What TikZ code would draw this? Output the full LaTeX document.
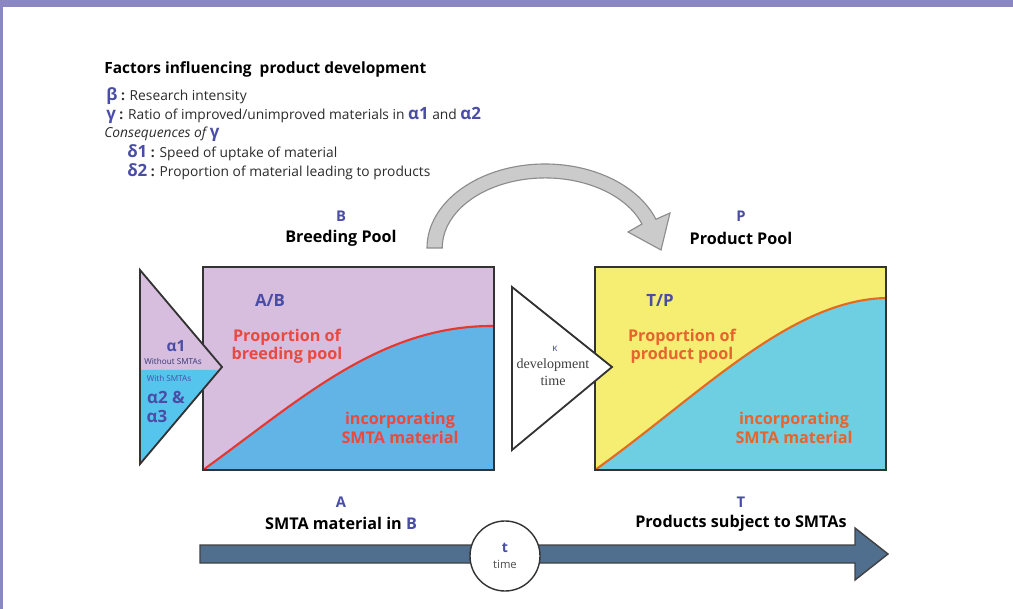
\documentclass[tikz,border=0pt]{standalone}
\usepackage{fontspec}
\setmainfont{Open Sans}
\newfontfamily\devfont{Liberation Serif}
\usepackage{xcolor}
\usetikzlibrary{positioning}

\definecolor{framepurple}{HTML}{8B87C2}
\definecolor{poolpink}{HTML}{D7BDDE}
\definecolor{poolblue}{HTML}{62B3E6}
\definecolor{trisky}{HTML}{55C5EE}
\definecolor{prodyellow}{HTML}{F5EE72}
\definecolor{prodcyan}{HTML}{6ECEE2}
\definecolor{labelblue}{HTML}{4A4DA6}
\definecolor{curvered}{HTML}{E5382E}
\definecolor{curveorange}{HTML}{E46A22}
\definecolor{textred}{HTML}{EA4A3E}
\definecolor{textorange}{HTML}{E8642E}
\definecolor{timeblue}{HTML}{506F8F}
\definecolor{arrowgrey}{HTML}{CBCBCB}
\definecolor{inktext}{HTML}{2B2B2B}

\newcommand{\grk}[1]{\textcolor{labelblue}{\fontsize{12}{12}\selectfont\bfseries #1}}

\begin{document}
\begin{tikzpicture}[x=0.025cm, y=-0.025cm,
    legend/.style = {anchor=west, inner sep=0pt, text=inktext, font=\fontsize{9.8}{10}\selectfont},
    sym/.style = {inner sep=0pt, text=labelblue, font=\fontsize{10.5}{11}\selectfont\bfseries},
    poolname/.style = {inner sep=0pt, text=black, font=\fontsize{11.5}{12}\selectfont\bfseries},
    pool/.style = {minimum width=7.275cm, minimum height=5.075cm, inner sep=0pt, outer sep=0pt},
    border/.style = {draw=black!80, line width=1.3pt},
    inlabel/.style = {inner sep=0pt, align=center, font=\fontsize{11.5}{13}\selectfont\bfseries},
    tiny/.style = {inner sep=0pt, font=\fontsize{5.8}{6}\selectfont}
]
\useasboundingbox (0,0) rectangle (1013,609);

% Frame
\fill[framepurple] (0,0) rectangle (1013,7);
\fill[framepurple] (0,0) rectangle (3,609);

% Legend
\node (title) [legend, font=\fontsize{11}{12}\selectfont\bfseries, text=black] at (104,69) {Factors influencing~ product development};
\node (beta) [legend] at (106,96) {\grk{β} \textbf{:} Research intensity};
\node (gamma) [legend] at (106,115) {\grk{γ} \textbf{:} Ratio of improved/unimproved materials in \grk{α1} and \grk{α2}};
\node (conseq) [legend] at (104,134) {\itshape Consequences of \grk{\upshape γ}};
\node (delta1) [legend] at (127,153) {\grk{δ1} \textbf{:} Speed of uptake of material};
\node (delta2) [legend] at (127,172) {\grk{δ2} \textbf{:} Proportion of material leading to products};

% Pool titles
\node (bsym) [sym] at (341,216) {B};
\node (bname) [poolname] at (341,238) {Breeding Pool};
\node (psym) [sym] at (741,216) {P};
\node (pname) [poolname] at (741,238) {Product Pool};

% Breeding pool
\node (breeding) [pool, fill=poolpink] at (348.5,368.5) {};
\fill[poolblue] (203,470) .. controls (300,400) and (380,325) .. (494,326) -- (494,470) -- cycle;
\draw[curvered, line width=1.5pt] (203,470) .. controls (300,400) and (380,325) .. (494,326);
\draw[border] (breeding.south west) rectangle (breeding.north east);
\node (ab) [sym, font=\fontsize{12}{12}\selectfont\bfseries] at (270,300) {A/B};
\node (bprop) [inlabel, text=textred] at (287,346) {Proportion of\\breeding pool};
\node (binc) [inlabel, text=textred] at (400,428) {incorporating\\SMTA material};

% Product pool
\node (product) [pool, fill=prodyellow] at (740.5,368.5) {};
\fill[prodcyan] (595,470) .. controls (700,395) and (790,300) .. (886,298) -- (886,470) -- cycle;
\draw[curveorange, line width=1.5pt] (595,470) .. controls (700,395) and (790,300) .. (886,298);
\draw[border] (product.south west) rectangle (product.north east);
\node (tp) [sym, font=\fontsize{12}{12}\selectfont\bfseries] at (660,300) {T/P};
\node (pprop) [inlabel, text=textorange] at (682,346) {Proportion of\\product pool};
\node (pinc) [inlabel, text=textorange] at (794,428) {incorporating\\SMTA material};

% Input triangle
\fill[poolpink] (140,270) -- (222,367) -- (140,464) -- cycle;
\fill[trisky] (140,370) -- (219.5,370) -- (140,464) -- cycle;
\draw[border, line join=miter] (140,270) -- (222,367) -- (140,464) -- cycle;
\node (alpha1) [sym, font=\fontsize{11}{12}\selectfont\bfseries] at (176,346) {α1};
\node (without) [tiny, text=labelblue!70!black] at (173,361) {Without SMTAs};
\node (with) [tiny, text=labelblue] at (169,378) {With SMTAs};
\node (alpha2) [sym, font=\fontsize{12}{12}\selectfont\bfseries] at (166,397) {α2 \&};
\node (alpha3) [sym, font=\fontsize{12}{12}\selectfont\bfseries] at (157,416) {α3};

% Development triangle
\filldraw[fill=white, border, line join=miter] (512,287) -- (612,367) -- (512,450) -- cycle;
\node (kappa) [inner sep=0pt, text=labelblue, font=\fontsize{7}{8}\selectfont] at (555,349) {κ};
\node (devtime) [inner sep=0pt, align=center, text=black!75, font=\devfont\fontsize{10}{12}\selectfont] at (553,372) {development\\time};

% Transfer arrow
\filldraw[fill=arrowgrey, draw=black!45, line width=0.8pt]
  (427,248) arc[start angle=180, end angle=340, x radius=118, y radius=84]
  -- (670,213) -- (661,250) -- (628,232) -- (642,224)
  arc[start angle=340, end angle=180, x radius=103, y radius=70] -- cycle;

% Bottom labels
\node (asym) [sym] at (341,502) {A};
\node (aname) [poolname] at (341,523) {SMTA material in \textcolor{labelblue}{B}};
\node (tsym) [sym] at (741,502) {T};
\node (tname) [poolname] at (741,523) {Products subject to SMTAs};

% Time axis
\filldraw[fill=timeblue, draw=black!75, line width=1pt, line join=miter]
  (200,545) -- (855,545) -- (855,528) -- (888,554) -- (855,580) -- (855,563) -- (200,563) -- cycle;
\node (clock) [circle, draw=black!80, line width=1pt, fill=white, minimum size=1.75cm, inner sep=0pt, align=center,
  font=\fontsize{8}{11}\selectfont, text=black!70] at (505,556) {\textcolor{labelblue}{\bfseries\fontsize{10}{11}\selectfont t}\\time};

\end{tikzpicture}
\end{document}
